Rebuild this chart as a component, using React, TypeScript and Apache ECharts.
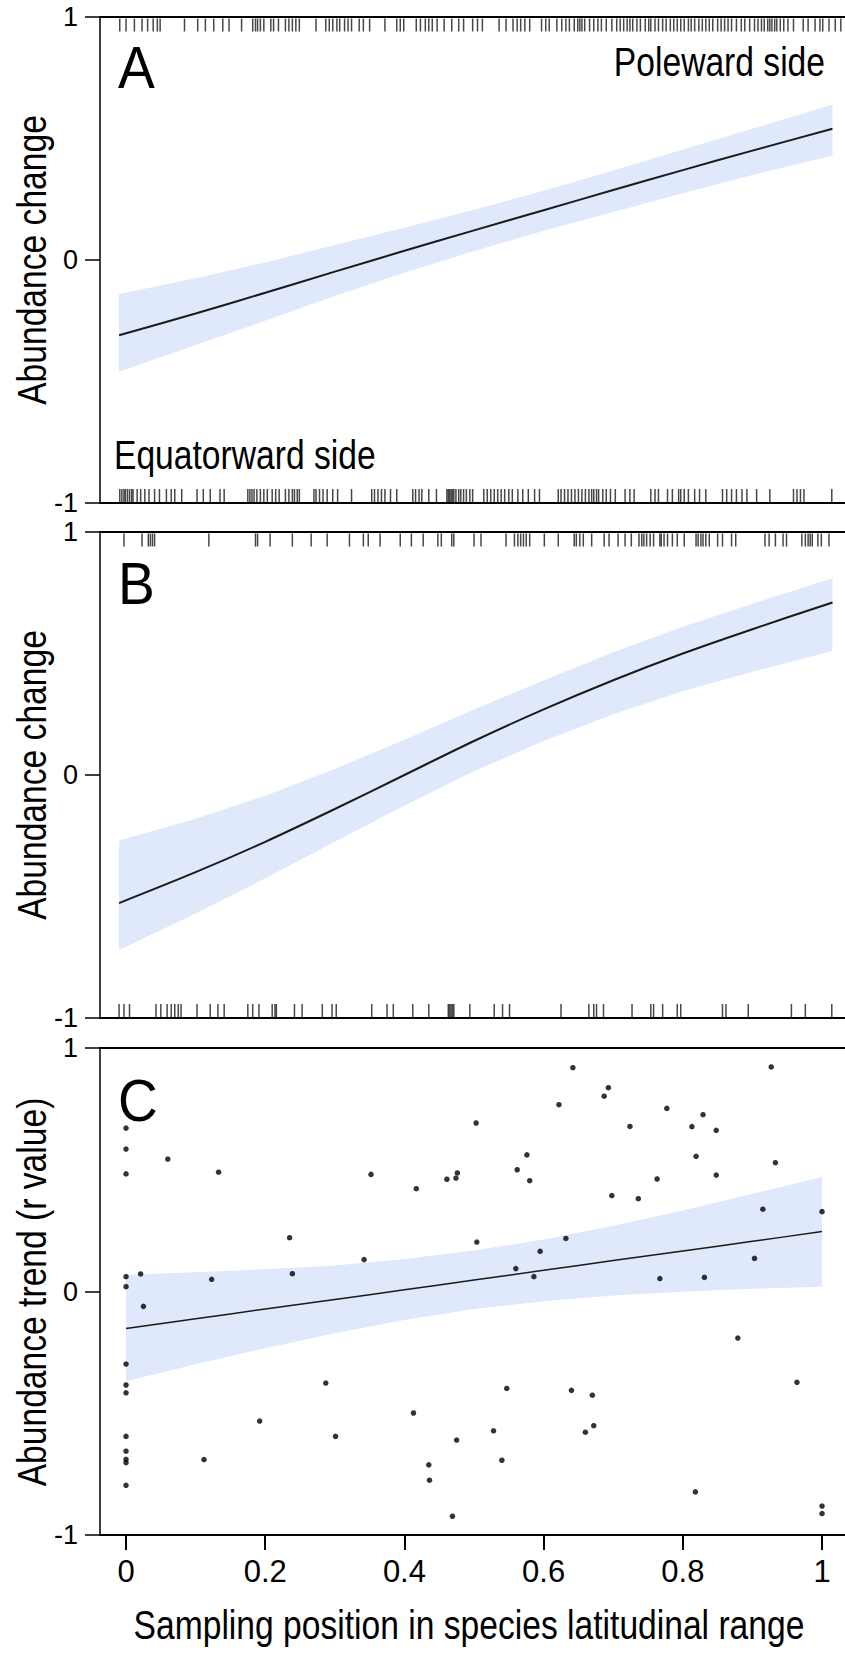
import React, { useEffect, useRef } from "react";
import * as echarts from "echarts";

const FONT = "'Liberation Sans', Arial, Helvetica, sans-serif";
const NARROW = "'Liberation Sans Narrow', 'Arial Narrow', 'Liberation Sans', sans-serif";
const BAND = "#dfe9fb";

// x ticks
const xTicks = [0, 0.2, 0.4, 0.6, 0.8, 1];
const xTickLabels = ["0", "0.2", "0.4", "0.6", "0.8", "1"];
const yTicks = [-1, 0, 1];

// Panel A & B fitted curves
const curveX = [-0.01, 0.1, 0.2, 0.3, 0.4, 0.5, 0.6, 0.7, 0.8, 0.9, 1.015];
const lineA = [-0.31, -0.22, -0.135, -0.048, 0.038, 0.122, 0.205, 0.288, 0.37, 0.45, 0.54];
const upperA = [-0.14, -0.075, -0.01, 0.062, 0.133, 0.207, 0.285, 0.368, 0.455, 0.54, 0.64];
const lowerA = [-0.46, -0.35, -0.25, -0.148, -0.052, 0.037, 0.12, 0.198, 0.275, 0.35, 0.43];
const lineB = [-0.527, -0.4, -0.275, -0.14, 0.0, 0.14, 0.27, 0.39, 0.5, 0.6, 0.71];
const upperB = [-0.27, -0.18, -0.085, 0.025, 0.145, 0.27, 0.39, 0.505, 0.61, 0.705, 0.81];
const lowerB = [-0.72, -0.57, -0.425, -0.275, -0.125, 0.015, 0.14, 0.25, 0.345, 0.425, 0.51];

// Panel C regression line and band
const cX = [0, 0.1, 0.2, 0.3, 0.4, 0.5, 0.6, 0.7, 0.8, 0.9, 1];
const lineC = [-0.152, -0.112, -0.072, -0.033, 0.007, 0.047, 0.087, 0.127, 0.166, 0.206, 0.246];
const upperC = [0.069, 0.079, 0.091, 0.107, 0.133, 0.168, 0.214, 0.27, 0.333, 0.401, 0.47];
const lowerC = [-0.369, -0.299, -0.233, -0.171, -0.117, -0.072, -0.04, -0.016, -0.001, 0.011, 0.02];

// Rug marks
const rugATop = [-0.009, 0.0, 0.012, 0.023, 0.031, 0.039, 0.045, 0.049, 0.084, 0.103, 0.114, 0.126, 0.139, 0.148, 0.166, 0.182, 0.186, 0.189, 0.193, 0.198, 0.208, 0.212, 0.219, 0.229, 0.234, 0.239, 0.244, 0.249, 0.273, 0.287, 0.292, 0.297, 0.303, 0.307, 0.314, 0.319, 0.324, 0.335, 0.341, 0.35, 0.372, 0.389, 0.394, 0.399, 0.417, 0.423, 0.43, 0.435, 0.44, 0.447, 0.457, 0.468, 0.478, 0.485, 0.498, 0.505, 0.512, 0.536, 0.546, 0.556, 0.562, 0.567, 0.573, 0.58, 0.597, 0.603, 0.608, 0.619, 0.626, 0.632, 0.637, 0.644, 0.649, 0.652, 0.655, 0.659, 0.666, 0.672, 0.678, 0.683, 0.69, 0.698, 0.705, 0.71, 0.715, 0.72, 0.724, 0.728, 0.734, 0.739, 0.746, 0.751, 0.754, 0.76, 0.765, 0.771, 0.776, 0.782, 0.787, 0.792, 0.797, 0.802, 0.808, 0.812, 0.817, 0.823, 0.828, 0.833, 0.838, 0.843, 0.85, 0.855, 0.86, 0.865, 0.87, 0.877, 0.884, 0.889, 0.896, 0.903, 0.908, 0.913, 0.917, 0.922, 0.925, 0.928, 0.932, 0.935, 0.94, 0.945, 0.951, 0.959, 0.973, 0.98, 0.99, 0.997, 1.001, 1.01, 1.019, 1.027];
const rugABottom = [-0.009, -0.006, -0.003, -0.001, 0.002, 0.005, 0.008, 0.01, 0.016, 0.021, 0.027, 0.033, 0.041, 0.048, 0.058, 0.065, 0.07, 0.08, 0.102, 0.111, 0.121, 0.135, 0.141, 0.175, 0.178, 0.181, 0.184, 0.188, 0.193, 0.198, 0.203, 0.21, 0.215, 0.22, 0.229, 0.234, 0.239, 0.242, 0.246, 0.249, 0.27, 0.273, 0.278, 0.283, 0.289, 0.297, 0.304, 0.324, 0.353, 0.357, 0.362, 0.367, 0.372, 0.38, 0.389, 0.412, 0.416, 0.421, 0.425, 0.435, 0.446, 0.461, 0.463, 0.465, 0.467, 0.469, 0.471, 0.474, 0.478, 0.481, 0.485, 0.489, 0.494, 0.498, 0.514, 0.519, 0.524, 0.529, 0.534, 0.539, 0.544, 0.55, 0.555, 0.563, 0.57, 0.578, 0.587, 0.594, 0.621, 0.625, 0.63, 0.635, 0.64, 0.645, 0.65, 0.655, 0.66, 0.665, 0.669, 0.672, 0.676, 0.679, 0.685, 0.69, 0.696, 0.703, 0.717, 0.724, 0.73, 0.754, 0.76, 0.765, 0.778, 0.785, 0.794, 0.797, 0.802, 0.808, 0.817, 0.824, 0.833, 0.857, 0.863, 0.87, 0.877, 0.885, 0.892, 0.906, 0.925, 0.959, 0.964, 0.969, 0.974, 1.014];
const rugBTop = [-0.003, 0.023, 0.032, 0.035, 0.038, 0.041, 0.119, 0.186, 0.189, 0.207, 0.239, 0.266, 0.289, 0.321, 0.341, 0.348, 0.365, 0.394, 0.41, 0.427, 0.448, 0.453, 0.468, 0.471, 0.5, 0.51, 0.546, 0.558, 0.563, 0.567, 0.571, 0.575, 0.58, 0.601, 0.621, 0.644, 0.647, 0.652, 0.657, 0.669, 0.687, 0.694, 0.707, 0.717, 0.726, 0.737, 0.741, 0.744, 0.748, 0.753, 0.758, 0.767, 0.769, 0.773, 0.778, 0.785, 0.792, 0.802, 0.819, 0.822, 0.826, 0.829, 0.833, 0.838, 0.85, 0.857, 0.87, 0.876, 0.918, 0.924, 0.933, 0.944, 0.949, 0.971, 0.976, 0.98, 0.983, 0.986, 0.994, 0.999, 1.01];
const rugBBottom = [-0.01, -0.003, 0.005, 0.043, 0.05, 0.059, 0.065, 0.07, 0.075, 0.079, 0.102, 0.121, 0.132, 0.141, 0.175, 0.182, 0.191, 0.21, 0.214, 0.216, 0.242, 0.253, 0.282, 0.296, 0.302, 0.353, 0.375, 0.384, 0.412, 0.435, 0.463, 0.465, 0.467, 0.469, 0.471, 0.494, 0.529, 0.541, 0.551, 0.625, 0.665, 0.672, 0.676, 0.686, 0.727, 0.754, 0.758, 0.771, 0.792, 0.797, 0.857, 0.862, 0.894, 0.956, 0.976, 1.014];

// Panel C points
const pointsCX = [0, 0, 0.06, 0, 0.133, 0.352, 0.417, 0.461, 0.474, 0.476, 0.235, 0.342, 0, 0.021, 0.123, 0.239, 0, 0.025, 0, 0, 0, 0.287, 0.192, 0.413, 0.301, 0.475, 0, 0, 0, 0, 0.112, 0.435, 0.436, 0, 0.469, 0.642, 0.927, 0.693, 0.687, 0.622, 0.777, 0.829, 0.503, 0.724, 0.813, 0.848, 0.576, 0.819, 0.933, 0.562, 0.58, 0.848, 0.763, 0.698, 0.736, 0.915, 1, 0.504, 0.632, 0.595, 0.56, 0.903, 0.586, 0.767, 0.831, 0.879, 0.964, 0.547, 0.64, 0.67, 0.528, 0.66, 0.672, 0.54, 0.818, 1, 1];
const pointsCY = [0.671, 0.585, 0.544, 0.483, 0.49, 0.481, 0.422, 0.461, 0.466, 0.487, 0.221, 0.131, 0.061, 0.072, 0.05, 0.073, 0.02, -0.061, -0.298, -0.384, -0.416, -0.376, -0.532, -0.499, -0.595, -0.61, -0.595, -0.656, -0.689, -0.703, -0.69, -0.712, -0.775, -0.796, -0.923, 0.919, 0.922, 0.837, 0.802, 0.767, 0.752, 0.726, 0.692, 0.678, 0.677, 0.662, 0.561, 0.555, 0.529, 0.5, 0.455, 0.478, 0.462, 0.394, 0.381, 0.338, 0.328, 0.203, 0.218, 0.165, 0.094, 0.136, 0.061, 0.053, 0.058, -0.191, -0.373, -0.398, -0.406, -0.426, -0.572, -0.578, -0.551, -0.693, -0.823, -0.881, -0.912];

const XMIN = -0.0374;
const XMAX = 1.033;

const grids = [
  { left: 100, top: 17, width: 745, height: 486 },
  { left: 100, top: 532, width: 745, height: 486 },
  { left: 100, top: 1048, width: 745, height: 487 },
];

function bandSeries(idx: number, xs: number[], up: number[], lo: number[]) {
  return {
    type: "custom",
    xAxisIndex: idx * 2,
    yAxisIndex: idx,
    data: [[0, 0]],
    silent: true,
    z: 1,
    renderItem: (_p: any, api: any) => {
      const pts: number[][] = [];
      for (let i = 0; i < xs.length; i++) pts.push(api.coord([xs[i], up[i]]));
      for (let i = xs.length - 1; i >= 0; i--) pts.push(api.coord([xs[i], lo[i]]));
      return { type: "polygon", shape: { points: pts }, style: { fill: BAND, stroke: null } };
    },
  };
}

function lineSeries(idx: number, xs: number[], ys: number[], width: number) {
  return {
    type: "line",
    xAxisIndex: idx * 2,
    yAxisIndex: idx,
    data: xs.map((x, i) => [x, ys[i]]),
    showSymbol: false,
    smooth: 0.3,
    silent: true,
    z: 3,
    lineStyle: { color: "#1a1a1a", width },
  };
}

function rugSeries(idx: number, xs: number[], top: boolean) {
  return {
    type: "scatter",
    xAxisIndex: idx * 2,
    yAxisIndex: idx,
    data: xs.map((x) => [x, top ? 1 : -1]),
    symbol: "rect",
    symbolSize: [1.5, 13],
    symbolOffset: [0, top ? 8 : -7.5],
    silent: true,
    z: 2,
    itemStyle: { color: "rgba(0,0,0,0.9)" },
  };
}

export default function App() {
  const ref = useRef<HTMLDivElement>(null);
  useEffect(() => {
    if (!ref.current) return;
    const chart = echarts.init(ref.current, undefined, { renderer: "svg" });
    const xAxes: any[] = [];
    const yAxes: any[] = [];
    grids.forEach((_g, i) => {
      const labelled = i === 2;
      xAxes.push({
        type: "value",
        gridIndex: i,
        position: "bottom",
        min: XMIN,
        max: XMAX,
        axisLine: { show: true, onZero: false, lineStyle: { color: "#000", width: 2 } },
        axisTick: labelled
          ? { show: true, customValues: xTicks, length: 15, lineStyle: { color: "#000", width: 2 } }
          : { show: false },
        axisLabel: labelled
          ? {
              show: true,
              customValues: xTicks,
              formatter: (v: number) => {
                const k = xTicks.findIndex((t) => Math.abs(t - v) < 1e-9);
                return k >= 0 ? xTickLabels[k] : "";
              },
              fontSize: 31,
              fontFamily: NARROW,
              color: "#000",
              margin: 21,
            }
          : { show: false },
        splitLine: { show: false },
      });
      xAxes.push({
        type: "value",
        gridIndex: i,
        position: "top",
        min: XMIN,
        max: XMAX,
        axisLine: { show: true, onZero: false, lineStyle: { color: "#000", width: 2 } },
        axisTick: { show: false },
        axisLabel: { show: false },
        splitLine: { show: false },
      });
      yAxes.push({
        type: "value",
        gridIndex: i,
        position: "left",
        min: -1,
        max: 1,
        interval: 1,
        axisLine: { show: true, onZero: false, lineStyle: { color: "#000", width: 1.5 } },
        axisTick: { show: true, customValues: yTicks, length: 15, lineStyle: { color: "#000", width: 1.5 } },
        axisLabel: {
          show: true,
          fontSize: 27,
          fontFamily: NARROW,
          color: "#000",
          margin: 22,
        },
        splitLine: { show: false },
      });
    });

    const series: any[] = [
      bandSeries(0, curveX, upperA, lowerA),
      lineSeries(0, curveX, lineA, 2),
      rugSeries(0, rugATop, true),
      rugSeries(0, rugABottom, false),
      bandSeries(1, curveX, upperB, lowerB),
      lineSeries(1, curveX, lineB, 2),
      rugSeries(1, rugBTop, true),
      rugSeries(1, rugBBottom, false),
      bandSeries(2, cX, upperC, lowerC),
      lineSeries(2, cX, lineC, 1.5),
      {
        type: "scatter",
        xAxisIndex: 4,
        yAxisIndex: 2,
        data: pointsCX.map((x, i) => [x, pointsCY[i]]),
        symbol: "circle",
        symbolSize: 5.5,
        silent: true,
        z: 4,
        itemStyle: { color: "#000" },
      },
    ];

    const txt = (text: string, x: number, y: number, size: number, align: string, rot = 0, sx = 0.82) => ({
      type: "text",
      x,
      y,
      rotation: rot,
      scaleX: sx,
      silent: true,
      style: {
        text,
        fontSize: size,
        fontFamily: FONT,
        fill: "#000",
        align,
        verticalAlign: "middle",
      },
    });

    chart.setOption({
      animation: false,
      backgroundColor: "#fff",
      grid: grids.map((g) => ({ ...g, containLabel: false })),
      xAxis: xAxes,
      yAxis: yAxes,
      series,
      graphic: [
        txt("A", 118, 67, 60, "left", 0, 0.92),
        txt("B", 118, 583, 60, "left", 0, 0.92),
        txt("C", 118, 1100, 60, "left", 0, 0.92),
        txt("Poleward side", 825, 62, 41, "right"),
        txt("Equatorward side", 114, 455, 41, "left"),
        txt("Abundance change", 32, 260, 41, "center", Math.PI / 2),
        txt("Abundance change", 32, 775, 41, "center", Math.PI / 2),
        txt("Abundance trend (r value)", 32, 1292, 41, "center", Math.PI / 2),
        txt("Sampling position in species latitudinal range", 469, 1625, 41, "center"),
      ],
    });
    return () => chart.dispose();
  }, []);
  return (
    <div
      ref={ref}
      style={{ position: "absolute", left: 0, top: 0, width: 845, height: 1653, background: "#fff" }}
    />
  );
}
